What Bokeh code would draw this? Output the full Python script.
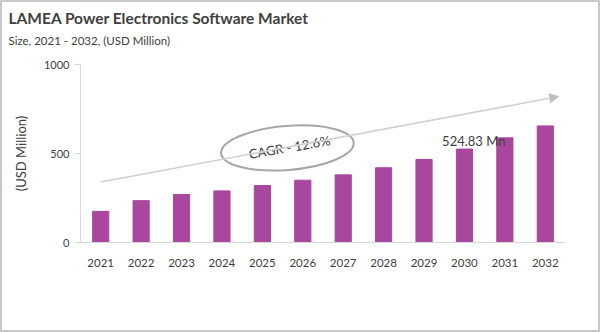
from bokeh.plotting import figure
from bokeh.models import (Range1d, Title, Arrow, NormalHead, FixedTicker)
from bokeh.core.properties import value
from bokeh.embed import file_html
from bokeh.resources import INLINE

# ---- data ----
years = ["2021", "2022", "2023", "2024", "2025", "2026",
         "2027", "2028", "2029", "2030", "2031", "2032"]
market_size = [175, 235, 270, 290, 320, 350, 380, 420, 467, 524.83, 588, 655]
y_ticks = [0, 500, 1000]
title_text = "LAMEA Power Electronics Software Market"
subtitle_text = "Size, 2021 - 2032, (USD Million)"
y_label = "(USD Million)"
cagr_text = "CAGR - 12.6%"
highlight_year = "2030"
highlight_text = "524.83 Mn"

# annotation anchors (x in category slots: slot i spans i..i+1)
trend_start = (0.5, 340)
trend_end = (11.83, 820)
cagr_center = (5.12, 531)

FONT = "Lato"
TXT = "#404040"
BAR = "#a8479d"

xpos = [i + 0.5 for i in range(len(years))]

p = figure(width=600, height=332, x_range=Range1d(0, len(years)),
           y_range=Range1d(0, 1000), output_backend="svg", toolbar_location=None,
           min_border_left=78, min_border_right=37, min_border_bottom=92,
           min_border_top=10)
p.styles = {"border": "2px solid #c8c8c8", "box-sizing": "border-box"}
p.title.visible = False

# header: spacer (next to the frame), subtitle, title (outermost)
p.add_layout(Title(text=" ", text_font=FONT, text_font_size="1px",
                   standoff=15), "above")
p.add_layout(Title(text=subtitle_text, text_font=FONT, text_font_size="11.5px",
                   text_font_style="normal", text_color=TXT, offset=-72,
                   standoff=0), "above")
p.add_layout(Title(text=title_text, text_font=FONT, text_font_size="15.5px",
                   text_font_style="bold", text_color=TXT, offset=-72,
                   standoff=9), "above")

p.vbar(x=xpos, top=market_size, width=0.4, fill_color=BAR, line_color=BAR)

# trend arrow
p.add_layout(Arrow(x_start=trend_start[0], y_start=trend_start[1],
                   x_end=trend_end[0], y_end=trend_end[1],
                   line_color="#d0d0d0", line_width=1.5,
                   end=NormalHead(size=9, fill_color="#bfbfbf",
                                  line_color="#bfbfbf")))

# CAGR ellipse + text
p.ellipse(x=[cagr_center[0]], y=[cagr_center[1]], width=133, height=44,
          width_units="screen", height_units="screen", angle=0.08,
          fill_color="white", line_color="#a6a6a6", line_width=2)
p.text(x=[cagr_center[0] + 0.05], y=[cagr_center[1] + 5], text=[cagr_text],
       angle=0.17, text_align="center", text_baseline="middle",
       text_font=value(FONT), text_font_size="13px", text_color=TXT)

# highlight label
hi = years.index(highlight_year)
p.text(x=[xpos[hi] + 0.23], y=[market_size[hi] + 48], text=[highlight_text],
       text_align="center", text_baseline="middle", text_font=value(FONT),
       text_font_size="13px", text_color=TXT)

p.grid.visible = False
p.outline_line_color = None

p.yaxis.ticker = FixedTicker(ticks=y_ticks)
p.yaxis.axis_label = y_label
p.yaxis.axis_label_text_font = FONT
p.yaxis.axis_label_text_font_size = "13px"
p.yaxis.axis_label_text_font_style = "normal"
p.yaxis.axis_label_text_color = TXT
p.yaxis.axis_label_standoff = 12
p.yaxis.major_label_text_font = FONT
p.yaxis.major_label_text_font_size = "11px"
p.yaxis.major_label_text_color = TXT
p.yaxis.axis_line_color = "#d9d9d9"
p.yaxis.major_tick_line_color = "#d9d9d9"
p.yaxis.major_tick_out = 6
p.yaxis.major_tick_in = 0
p.yaxis.minor_tick_line_color = None

p.xaxis.ticker = FixedTicker(ticks=xpos)
p.xaxis.major_label_overrides = {x: y for x, y in zip(xpos, years)}
p.xaxis.major_label_text_font = FONT
p.xaxis.major_label_text_font_size = "11.5px"
p.xaxis.major_label_text_color = TXT
p.xaxis.axis_line_color = "#d9d9d9"
p.xaxis.major_tick_line_color = None
p.xaxis.minor_tick_line_color = None
p.xaxis.major_label_standoff = 10

open("out.html", "w").write(file_html(p, INLINE))
